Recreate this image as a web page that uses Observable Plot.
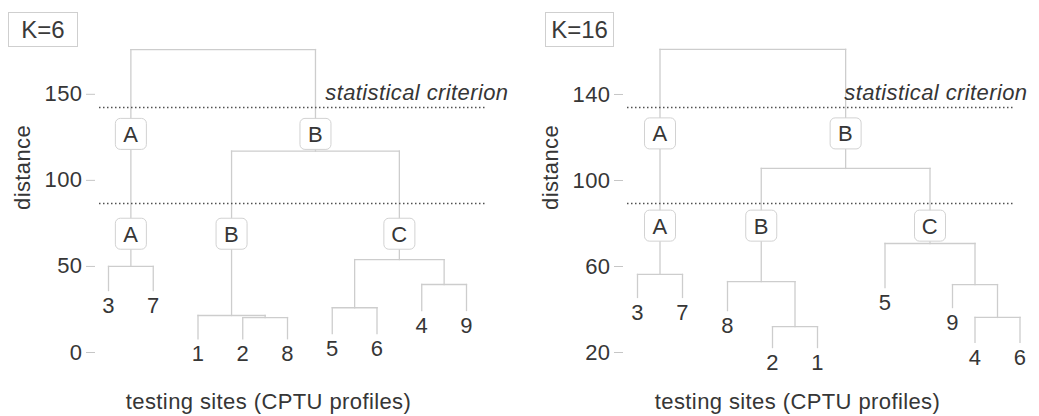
<!DOCTYPE html>
<html><head><meta charset="utf-8">
<script src="https://cdn.jsdelivr.net/npm/d3@7"></script>
<script src="https://cdn.jsdelivr.net/npm/@observablehq/plot@0.6"></script>
<style>
body{margin:0;background:#fff;font-family:"Liberation Sans",Arial,sans-serif;}
#wrap{display:flex;width:1039px;height:416px;}
.panel{position:relative;}
.kbox{position:absolute;top:12px;height:33px;border:1px solid #cfcfcf;color:#3a3a3a;font-size:24px;line-height:33px;text-align:center;background:#fff;}
</style></head><body><div id="wrap"></div>
<script>
// ---------- data: left panel (K=6) ----------
const leftTitle = "K=6";
const leftLeaves = ["3","7","1","2","8","5","6","4","9"];
const leftLeafSlot = [0,1,2,3,4,5,6,7,8];
const leftLeafEnd = [36,36,8,8,8,11,11,24.4,24.4];
// merges in hclust style: negative = leaf label, positive = earlier merge row
const leftMerges = [[-3,-7,50],[-2,-8,20.3],[-1,2,21.5],[-5,-6,26],[-4,-9,39.5],[4,5,54],[3,6,117],[1,7,176]];
const leftCuts = [142.4, 86.6];
const leftUpperGroups = ["A","B"], leftUpperNodes = [1,7], leftUpperLevel = 127;
const leftLowerGroups = ["A","B","C"], leftLowerNodes = [1,3,6], leftLowerLevel = 69;
const leftTicks = [0,50,100,150];
const leftYDomain = [0,183];

// ---------- data: right panel (K=16) ----------
const rightTitle = "K=16";
const rightLeaves = ["3","7","8","2","1","5","9","4","6"];
const rightLeafSlot = [0,1,2,3,4,5.5,7,7.5,8.5];
const rightLeafEnd = [45.6,45.6,39.5,22.3,22.3,50.2,40.9,24.7,24.7];
const rightMerges = [[-3,-7,56.3],[-2,-1,32],[-8,2,53],[-4,-6,36.3],[-9,4,51.6],[-5,5,70.7],[3,6,105.6],[1,7,161]];
const rightCuts = [134, 89.3];
const rightUpperGroups = ["A","B"], rightUpperNodes = [1,7], rightUpperLevel = 121.9;
const rightLowerGroups = ["A","B","C"], rightLowerNodes = [1,3,6], rightLowerLevel = 79;
const rightTicks = [20,60,100,140];
const rightYDomain = [20,166.5];

const criterionLabel = "statistical criterion";
const xLabel = "testing sites (CPTU profiles)";
const yLabel = "distance";

const FONT = '"Liberation Sans", Arial, sans-serif';
const TXT = "#363636";
const FS = 22;

const roundSquare = {
  draw(ctx, size) {
    const w = Math.sqrt(size) / 2, r = 5;
    ctx.moveTo(-w + r, -w);
    ctx.lineTo(w - r, -w); ctx.arcTo(w, -w, w, -w + r, r);
    ctx.lineTo(w, w - r); ctx.arcTo(w, w, w - r, w, r);
    ctx.lineTo(-w + r, w); ctx.arcTo(-w, w, -w, w - r, r);
    ctx.lineTo(-w, -w + r); ctx.arcTo(-w, -w, -w + r, -w, r);
    ctx.closePath();
  }
};

function build(leaves, slots, ends, merges) {
  const pos = new Map(leaves.map((l, i) => [l, {x: slots[i], y: ends[i]}]));
  const nodes = [], segs = [];
  const get = c => c < 0 ? pos.get(String(-c)) : nodes[c - 1];
  merges.forEach(([a, b, h]) => {
    const A = get(a), B = get(b);
    segs.push({x1: A.x, y1: h, x2: B.x, y2: h});
    segs.push({x1: A.x, y1: A.y, x2: A.x, y2: h});
    segs.push({x1: B.x, y1: B.y, x2: B.x, y2: h});
    nodes.push({x: (A.x + B.x) / 2, y: h});
  });
  const leafPts = leaves.map((l, i) => ({label: l, x: slots[i], y: ends[i]}));
  return {segs, nodes, leafPts};
}

function panel(d, o) {
  const t = build(d.leaves, d.slots, d.ends, d.merges);
  const groups = [
    ...d.upperGroups.map((g, i) => ({label: g, x: t.nodes[d.upperNodes[i] - 1].x, y: d.upperLevel})),
    ...d.lowerGroups.map((g, i) => ({label: g, x: t.nodes[d.lowerNodes[i] - 1].x, y: d.lowerLevel}))
  ];
  const plot = Plot.plot({
    width: o.width, height: 416,
    marginLeft: o.ml, marginRight: o.mr, marginTop: 37, marginBottom: 64,
    x: {domain: o.xDomain, range: o.xRange, axis: null},
    y: {domain: d.yDomain, axis: null},
    style: {fontFamily: FONT, fontSize: FS + "px", color: TXT, background: "white", overflow: "visible", letterSpacing: "0.4px"},
    marks: [
      Plot.axisY({ticks: d.ticks, tickSize: 9, tickPadding: 4, stroke: "#c6c6c6", fill: TXT, fontSize: FS, line: true, label: null}),
      Plot.link(t.segs, {x1: "x1", y1: "y1", x2: "x2", y2: "y2", stroke: "#cdcdcd", strokeWidth: 1.3, strokeLinecap: "square"}),
      Plot.ruleY(d.cuts, {stroke: "#505050", strokeDasharray: "1.5,2.5", strokeWidth: 1.5, insetLeft: 4}),
      Plot.text([criterionLabel], {text: s => s, y: [d.cuts[0]], frameAnchor: "right", textAnchor: "end", lineAnchor: "middle", dx: o.critDx, dy: -14, fontStyle: "italic", fontSize: FS, fill: TXT}),
      Plot.dot(groups, {x: "x", y: "y", symbol: roundSquare, r: 17.5, fill: "white", stroke: "#d2d2d2", strokeWidth: 1}),
      Plot.text(groups, {x: "x", y: "y", text: "label", fontSize: FS, fill: TXT, dy: 1}),
      Plot.text(t.leafPts, {x: "x", y: "y", text: "label", lineAnchor: "top", dy: 7, fontSize: FS, fill: TXT}),
      Plot.text([xLabel], {text: s => s, frameAnchor: "bottom", lineAnchor: "top", dy: 41, dx: o.xlDx, fontSize: FS, fill: TXT}),
      Plot.text([yLabel], {text: s => s, frameAnchor: "left", rotate: -90, lineAnchor: "top", dx: o.ylDx, dy: 15, fontSize: FS, fill: TXT})
    ]
  });
  const div = document.createElement("div");
  div.className = "panel";
  div.style.width = o.width + "px";
  div.appendChild(plot);
  const k = document.createElement("div");
  k.className = "kbox";
  k.style.left = o.kLeft + "px";
  k.style.width = o.kWidth + "px";
  k.textContent = d.title;
  div.appendChild(k);
  document.getElementById("wrap").appendChild(div);
}

panel({title: leftTitle, leaves: leftLeaves, slots: leftLeafSlot, ends: leftLeafEnd, merges: leftMerges,
       cuts: leftCuts, upperGroups: leftUpperGroups, upperNodes: leftUpperNodes, upperLevel: leftUpperLevel,
       lowerGroups: leftLowerGroups, lowerNodes: leftLowerNodes, lowerLevel: leftLowerLevel,
       ticks: leftTicks, yDomain: leftYDomain},
      {width: 519, ml: 95, mr: 32, xDomain: [0, 8], xRange: [108, 466], critDx: 21, xlDx: -23, ylDx: -81, kLeft: 8, kWidth: 68});

panel({title: rightTitle, leaves: rightLeaves, slots: rightLeafSlot, ends: rightLeafEnd, merges: rightMerges,
       cuts: rightCuts, upperGroups: rightUpperGroups, upperNodes: rightUpperNodes, upperLevel: rightUpperLevel,
       lowerGroups: rightLowerGroups, lowerNodes: rightLowerNodes, lowerLevel: rightLowerLevel,
       ticks: rightTicks, yDomain: rightYDomain},
      {width: 520, ml: 104, mr: 24, xDomain: [0, 8.5], xRange: [118, 500.5], critDx: 12, xlDx: -22, ylDx: -81, kLeft: 26, kWidth: 67});
</script></body></html>
